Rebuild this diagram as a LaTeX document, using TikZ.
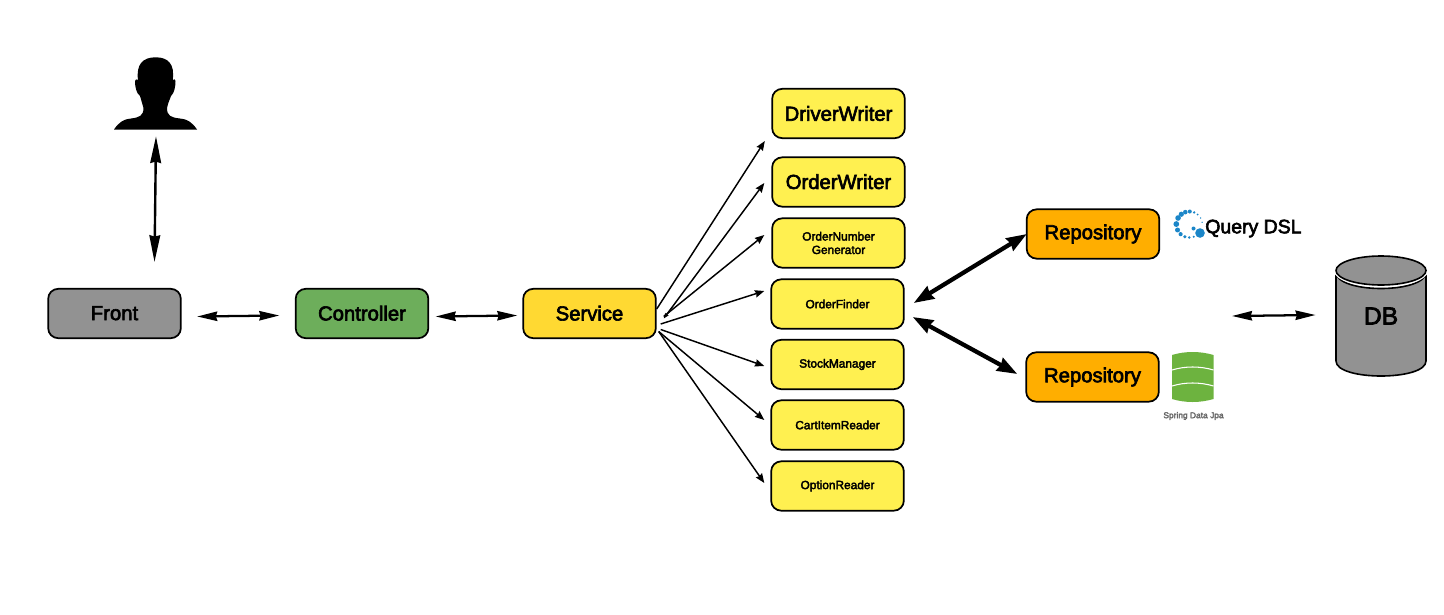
\documentclass[tikz,border=0pt]{standalone}
\usepackage{fontspec}
\setmainfont{Liberation Sans}
\newfontfamily\medfont[FakeBold=3]{Liberation Sans}
\usetikzlibrary{arrows.meta}
\definecolor{cgray}{HTML}{929292}
\definecolor{cgreen}{HTML}{6DAE5B}
\definecolor{cserv}{HTML}{FFD932}
\definecolor{cyel}{HTML}{FFF050}
\definecolor{corange}{HTML}{FFAE00}
\definecolor{cblue}{HTML}{1B86C8}
\definecolor{cjpa}{HTML}{6DB33F}
\tikzset{
  x=0.75pt,y=-0.75pt,
  boxbase/.style={draw=black,line width=1.3pt,rounded corners=7.5pt,inner sep=0pt,minimum width=99.5pt,minimum height=37pt,align=center,font=\medfont\fontsize{15.2}{17}\selectfont},
  smalltext/.style={font=\medfont\fontsize{8.9}{10.5}\selectfont},
  bigarrow/.style={{Stealth[length=15pt,width=7pt,inset=1pt]}-{Stealth[length=15pt,width=7pt,inset=1pt]},line width=1.7pt},
  longarrow/.style={{Stealth[length=20pt,width=8pt,inset=1pt]}-{Stealth[length=20pt,width=8pt,inset=1pt]},line width=1.8pt},
  thinarrow/.style={-{Stealth[length=7pt,width=5.5pt,inset=.7pt]},line width=1.1pt},
  thinboth/.style={{Stealth[length=4pt,width=3pt,inset=.5pt]}-{Stealth[length=7pt,width=5.5pt,inset=.7pt]},line width=1.1pt},
  fatarrow/.style={{Stealth[length=15pt,width=10.5pt,inset=1pt]}-{Stealth[length=15pt,width=10.5pt,inset=1pt]},line width=3.2pt},
}
\begin{document}
\begin{tikzpicture}
\useasboundingbox (0,0) rectangle (1444,614);
% person
\fill[black] (114,129.5) .. controls (119,122) and (124,119) .. (131,118.5)
  .. controls (139,117.5) and (143.5,116) .. (143.5,108)
  .. controls (142,103) and (141,99) .. (140,96)
  .. controls (136,93) and (135,86) .. (135,81)
  .. controls (135,79) and (137,79) .. (138,80)
  .. controls (136,64) and (143,57.3) .. (155.7,57.3)
  .. controls (168,57.3) and (175,64) .. (172.7,80)
  .. controls (174,79) and (175.5,79) .. (175.5,81)
  .. controls (175.5,86) and (174.5,93) .. (171,96)
  .. controls (170,99) and (168,103) .. (167,108)
  .. controls (167,116) and (171,117.5) .. (180,118.5)
  .. controls (187,119) and (192,122) .. (197,129.5) -- cycle;
\node[minimum width=61.5pt,minimum height=54pt,inner sep=0pt] (person) at (155.5,93.5) {};
% boxes
\node[boxbase,fill=cgray] (front) at (114.5,313.5) {\raisebox{.6pt}{Front}};
\node[boxbase,fill=cgreen] (ctrl) at (362,313.5) {\raisebox{.6pt}{Controller}};
\node[boxbase,fill=cserv] (serv) at (589.5,313.5) {\raisebox{.6pt}{Service}};
\node[boxbase,fill=cyel] (dw) at (838.5,113.5) {DriverWriter};
\node[boxbase,fill=cyel] (ow) at (838.5,182) {\raisebox{.6pt}{OrderWriter}};
\node[boxbase,fill=cyel,smalltext] (ong) at (838.5,243) {\raisebox{.6pt}{OrderNumber}\\[-1pt]Generator};
\node[boxbase,fill=cyel,smalltext] (of) at (837.5,304) {OrderFinder};
\node[boxbase,fill=cyel,smalltext] (sm) at (837.5,364.5) {StockManager};
\node[boxbase,fill=cyel,smalltext] (ci) at (837.5,425) {CartItemReader};
\node[boxbase,fill=cyel,smalltext] (op) at (837.5,486) {OptionReader};
\node[boxbase,fill=corange] (repoa) at (1093,234) {\raisebox{-.7pt}{Repository}};
\node[boxbase,fill=corange] (repob) at (1092.5,377) {\raisebox{-.7pt}{Repository}};
% DB
\draw[fill=cgray,line width=1.2pt] (1336,272) -- (1336,361) .. controls (1336,381) and (1426,381) .. (1426,361) -- (1426,272) .. controls (1426,294) and (1336,294) .. (1336,272) -- cycle;
\draw[fill=cgray,line width=1.2pt,preaction={draw=white,line width=3pt}] (1381,270.5) ellipse [x radius=45,y radius=14.5];
\node[inner sep=0pt,minimum width=67.5pt,minimum height=90pt,font=\medfont\fontsize{18.5}{20}\selectfont] (db) at (1381,316) {DB};
% Query DSL
\foreach \a/\r in {10/.7,30/.8,50/1,68/1.3,88/2,108/2.3,128/2.6,150/2.8,178/2.9,205/2.5,228/2.1,250/1.7,270/1.4,290/1.1,310/.9,335/.8}{
  \fill[cblue] ({1189.3+13*cos(\a)},{224.5-13*sin(\a)}) circle [radius=\r];
}
\fill[cblue] (1200,233) circle [radius=4.8];
\fill[cblue] (1193.5,228.5) circle [radius=2];
\node[inner sep=0pt,anchor=west,font=\medfont\fontsize{14.6}{16}\selectfont] (qdsl) at (1205,228.5) {Query DSL};
% Spring Data JPA
\fill[cjpa] (1172,355) .. controls (1185,351) and (1200,351) .. (1213.5,355) -- (1213.5,399) .. controls (1200,403) and (1185,403) .. (1172,399) -- cycle;
\draw[white,line width=.8pt] (1172,370) .. controls (1185,366) and (1200,366) .. (1213.5,370);
\draw[white,line width=.8pt] (1172,386) .. controls (1185,382) and (1200,382) .. (1213.5,386);
\node[inner sep=0pt,text=black!60,font=\medfont\fontsize{6.3}{8}\selectfont] (jpa) at (1193.5,416) {Spring Data Jpa};
% connectors
\draw[longarrow] ([shift={(0.5,6.5)}]person.south) -- ([shift={(40,-26)}]front.north);
\draw[bigarrow] ([shift={(15.5,3)}]front.east) -- ([shift={(-15.5,2)}]ctrl.west);
\draw[bigarrow] ([shift={(6.5,3)}]ctrl.east) -- ([shift={(-5,2)}]serv.west);
\draw[bigarrow] ([shift={(-149,0)}]db.center) -- ([shift={(-65.5,-1)}]db.center);
\draw[thinarrow] ([shift={(0,-4.5)}]serv.east) -- ([shift={(-6.5,2)}]dw.south west);
\draw[thinboth] ([shift={(7,5)}]serv.east) -- ([shift={(-7,1)}]ow.west);
\draw[thinarrow] ([shift={(7,3)}]serv.east) -- ([shift={(-7,-8)}]ong.west);
\draw[thinarrow] ([shift={(4,10.5)}]serv.east) -- ([shift={(-6,-13)}]of.west);
\draw[thinarrow] ([shift={(4,16)}]serv.east) -- ([shift={(-6,1.5)}]sm.west);
\draw[thinarrow] ([shift={(2,18)}]serv.east) -- ([shift={(-6,-5)}]ci.west);
\draw[thinarrow] ([shift={(2,18)}]serv.east) -- ([shift={(-6,-3)}]op.west);
\draw[fatarrow] ([shift={(9,-1)}]of.east) -- ([shift={(1,0)}]repoa.west);
\draw[fatarrow] ([shift={(8,13)}]of.east) -- ([shift={(-8,-3)}]repob.west);
\end{tikzpicture}
\end{document}
